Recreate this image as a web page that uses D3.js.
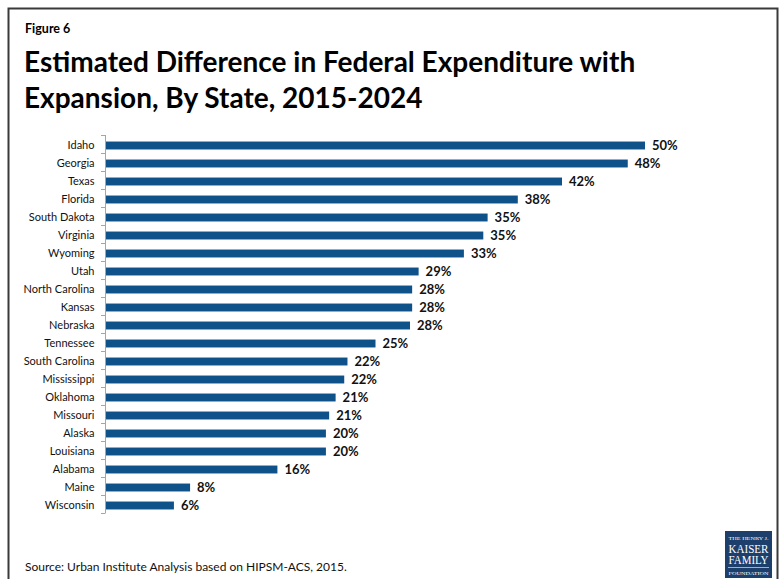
<!DOCTYPE html>
<html>
<head>
<meta charset="utf-8">
<script src="https://cdn.jsdelivr.net/npm/d3@7"></script>
<style>
  body { margin: 0; background: #fff; }
</style>
</head>
<body>
<div id="chart"></div>
<script>
// data
const states = ["Idaho", "Georgia", "Texas", "Florida", "South Dakota", "Virginia", "Wyoming", "Utah",
  "North Carolina", "Kansas", "Nebraska", "Tennessee", "South Carolina", "Mississippi", "Oklahoma",
  "Missouri", "Alaska", "Louisiana", "Alabama", "Maine", "Wisconsin"]
const pctValues = [50, 48.4, 42.3, 38.2, 35.4, 35.0, 33.2, 29.0, 28.4, 28.4, 28.2, 25.0, 22.4, 22.1,
  21.3, 20.7, 20.4, 20.4, 15.9, 7.8, 6.3]
const pctLabels = ["50%", "48%", "42%", "38%", "35%", "35%", "33%", "29%", "28%", "28%", "28%", "25%",
  "22%", "22%", "21%", "21%", "20%", "20%", "16%", "8%", "6%"]

const W = 781, H = 579
const barColor = "#0f5189"
const sans = "Lato, 'Open Sans', sans-serif"

let svg = d3.select("#chart").append("svg")
  .attr("width", W)
  .attr("height", H)
  .attr("font-family", sans)

// frame
svg.append("path")
  .attr("d", "M8.5," + H + " V8.5 H777.5 V" + H)
  .attr("fill", "none")
  .attr("stroke", "#3a3a3a")
  .attr("stroke-width", 2)

// titles
svg.append("text")
  .attr("x", 25).attr("y", 33)
  .attr("font-size", 12.5).attr("font-weight", "bold")
  .text("Figure 6")
svg.append("text")
  .attr("x", 24).attr("y", 72)
  .attr("font-size", 28).attr("font-weight", "bold")
  .text("Estimated Difference in Federal Expenditure with")
svg.append("text")
  .attr("x", 24).attr("y", 108)
  .attr("font-size", 28).attr("font-weight", "bold")
  .text("Expansion, By State, 2015-2024")

// scales
let x = d3.scaleLinear()
  .domain([0, 50])
  .range([106, 645])

let y = d3.scaleBand()
  .domain(states)
  .range([136.5, 514.5])
  .paddingInner(0.56)
  .paddingOuter(0.28)

// category axis
let yAxis = svg.append("g")
  .attr("transform", "translate(105.5,0)")
  .call(d3.axisLeft(y).tickSize(0).tickPadding(11))
yAxis.select(".domain").remove()
yAxis.selectAll("text")
  .attr("font-family", sans)
  .attr("font-size", 11)
  .attr("fill", "#111")

svg.append("line")
  .attr("x1", 105.5).attr("x2", 105.5)
  .attr("y1", 135).attr("y2", 513)
  .attr("stroke", "#a6a6a6")

// small ticks between categories
let bounds = d3.range(states.length + 1).map(i => 135 + i * (378 / states.length))
svg.append("g").selectAll("line")
  .data(bounds)
  .enter().append("line")
  .attr("x1", 101).attr("x2", 105.5)
  .attr("y1", d => Math.round(d) + 0.5)
  .attr("y2", d => Math.round(d) + 0.5)
  .attr("stroke", "#a6a6a6")

// bars
svg.append("g").selectAll("rect")
  .data(states)
  .enter().append("rect")
  .attr("x", x(0))
  .attr("y", d => y(d))
  .attr("width", (d, i) => x(pctValues[i]) - x(0))
  .attr("height", y.bandwidth())
  .attr("fill", barColor)

// value labels
svg.append("g").selectAll("text")
  .data(states)
  .enter().append("text")
  .attr("x", (d, i) => x(pctValues[i]) + 7)
  .attr("y", d => y(d) + y.bandwidth() / 2)
  .attr("dy", "0.36em")
  .attr("font-size", 13)
  .attr("font-weight", "bold")
  .attr("fill", "#111")
  .text((d, i) => pctLabels[i])

// source
svg.append("text")
  .attr("x", 25).attr("y", 571)
  .attr("font-size", 12)
  .attr("fill", "#111")
  .text("Source: Urban Institute Analysis based on HIPSM-ACS, 2015.")

// logo
let logo = svg.append("g").attr("transform", "translate(725,531)")
logo.append("rect")
  .attr("width", 47).attr("height", 47)
  .attr("fill", "#1d3f6c")
let logoLines = [["THE HENRY J.", 5, 9], ["KAISER", 11.5, 21.5], ["FAMILY", 11.5, 32.5], ["FOUNDATION", 4.5, 43.5]]
logo.selectAll("text")
  .data(logoLines)
  .enter().append("text")
  .attr("x", 23.5)
  .attr("y", d => d[2])
  .attr("text-anchor", "middle")
  .attr("font-family", "'Liberation Serif', 'DejaVu Serif', serif")
  .attr("font-size", d => d[1])
  .attr("textLength", 40)
  .attr("lengthAdjust", "spacingAndGlyphs")
  .attr("fill", "#fff")
  .text(d => d[0])
logo.append("line")
  .attr("x1", 3).attr("x2", 44).attr("y1", 36.5).attr("y2", 36.5)
  .attr("stroke", "#fff").attr("stroke-width", 0.6)
</script>
</body>
</html>
